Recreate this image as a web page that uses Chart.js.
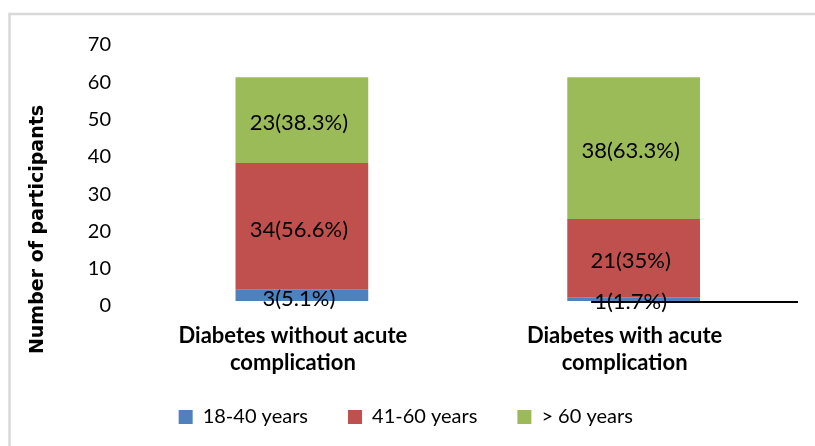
<!DOCTYPE html>
<html>
<head>
<meta charset="utf-8">
<script src="https://cdn.jsdelivr.net/npm/chart.js@4.4.1/dist/chart.umd.min.js"></script>
<style>
  html, body { margin: 0; padding: 0; background: #ffffff; }
  #wrap { position: relative; width: 815px; height: 446px; }
</style>
</head>
<body>
<div id="wrap"><canvas id="chart" width="815" height="446"></canvas></div>
<script>
// Participants by age group, for diabetes with and without acute complication
const categories = [['Diabetes without acute', 'complication'], ['Diabetes with acute', 'complication']];
const seriesNames = ['18-40 years', '41-60 years', '> 60 years'];
const age18to40 = [3, 1];
const age41to60 = [34, 21];
const ageOver60 = [23, 38];
const pct18to40 = ['5.1', '1.7'];
const pct41to60 = ['56.6', '35'];
const pctOver60 = ['38.3', '63.3'];
const yTickValues = [0, 10, 20, 30, 40, 50, 60, 70];
const yAxisTitle = 'Number of participants';

const colors = ['#4F81BD', '#C0504D', '#9BBB59'];

// light grey frame round the chart
const framePlugin = {
  id: 'frame',
  beforeDraw(chart) {
    const ctx = chart.ctx;
    ctx.save();
    ctx.fillStyle = '#ffffff';
    ctx.fillRect(0, 0, chart.width, chart.height);
    ctx.strokeStyle = '#d9d9d9';
    ctx.lineWidth = 2.5;
    ctx.strokeRect(9.5, 14, chart.width + 20, chart.height + 20);
    ctx.restore();
  }
};

// lift the legend row a little closer to the category labels
const legendNudge = {
  id: 'legendNudge',
  afterLayout(chart) {
    const lg = chart.legend;
    if (lg) { lg.top -= 13; lg.bottom -= 13; }
  }
};

// "n(p%)" written in the middle of each bar segment
const segmentLabels = {
  id: 'segmentLabels',
  afterDatasetsDraw(chart) {
    const ctx = chart.ctx;
    ctx.save();
    ctx.font = '22px Lato';
    ctx.fillStyle = '#000000';
    ctx.textAlign = 'center';
    ctx.textBaseline = 'middle';
    chart.data.datasets.forEach((ds, di) => {
      const meta = chart.getDatasetMeta(di);
      meta.data.forEach((bar, i) => {
        const txt = ds.data[i] + '(' + ds.pct[i] + '%)';
        ctx.fillText(txt, bar.x - 3, (bar.y + bar.base) / 2 + 3);
      });
    });
    ctx.restore();
  }
};

// short baseline segment under the second bar
const baseLine = {
  id: 'baseLine',
  afterDatasetsDraw(chart) {
    const {ctx, chartArea, scales} = chart;
    const y0 = scales.y.getPixelForValue(0) + 1;
    const xStart = scales.x.getPixelForValue(0.872);
    ctx.save();
    ctx.strokeStyle = '#000000';
    ctx.lineWidth = 2;
    ctx.beginPath();
    ctx.moveTo(xStart, y0);
    ctx.lineTo(chartArea.right - 1.5, y0);
    ctx.stroke();
    ctx.restore();
  }
};

// rotated y-axis title
const yTitle = {
  id: 'yTitle',
  afterDraw(chart) {
    const ctx = chart.ctx;
    ctx.save();
    ctx.translate(37.7, 229.5);
    ctx.rotate(-Math.PI / 2);
    ctx.font = 'bold 19px "DejaVu Sans"';
    ctx.fillStyle = '#000000';
    ctx.textAlign = 'center';
    ctx.textBaseline = 'middle';
    ctx.fillText(yAxisTitle, 0, 0);
    ctx.restore();
  }
};

function draw() {
  Chart.defaults.font.family = 'Lato';
  Chart.defaults.color = '#000000';
  new Chart(document.getElementById('chart'), {
    type: 'bar',
    data: {
      labels: categories,
      datasets: [
        { label: seriesNames[0], data: age18to40, pct: pct18to40, backgroundColor: colors[0] },
        { label: seriesNames[1], data: age41to60, pct: pct41to60, backgroundColor: colors[1] },
        { label: seriesNames[2], data: ageOver60, pct: pctOver60, backgroundColor: colors[2] }
      ]
    },
    options: {
      responsive: false,
      animation: false,
      devicePixelRatio: 1,
      layout: { padding: { top: 40, left: 12, right: 15.5, bottom: 6 } },
      datasets: { bar: { barPercentage: 0.4, categoryPercentage: 1.0, borderWidth: 0 } },
      scales: {
        x: {
          stacked: true,
          grid: { display: false, drawTicks: false },
          border: { display: false },
          ticks: {
            padding: 21,
            labelOffset: -9,
            maxRotation: 0,
            autoSkip: false,
            color: '#000000',
            font: { family: 'Lato', size: 22, weight: 'bold', lineHeight: 1.25 }
          },
          afterFit(scale) { scale.height = 79; }
        },
        y: {
          stacked: true,
          min: 0,
          max: 70,
          afterBuildTicks(scale) { scale.ticks = yTickValues.map(v => ({ value: v })); },
          grid: { display: false, drawTicks: false },
          border: { display: false },
          ticks: {
            padding: 25,
            labelOffset: 5,
            color: '#000000',
            font: { family: 'Lato', size: 20 }
          },
          afterFit(scale) { scale.width = 124; }
        }
      },
      plugins: {
        legend: {
          position: 'bottom',
          maxHeight: 60,
          labels: {
            boxWidth: 14,
            boxHeight: 14,
            padding: 40,
            color: '#000000',
            font: { family: 'Lato', size: 20 }
          }
        },
        tooltip: { enabled: false }
      }
    },
    plugins: [framePlugin, legendNudge, segmentLabels, baseLine, yTitle]
  });
}

Promise.all([
  document.fonts.load('20px Lato'),
  document.fonts.load('bold 20px Lato'),
  document.fonts.load('bold 19px "DejaVu Sans"')
]).then(draw, draw);
</script>
</body>
</html>
